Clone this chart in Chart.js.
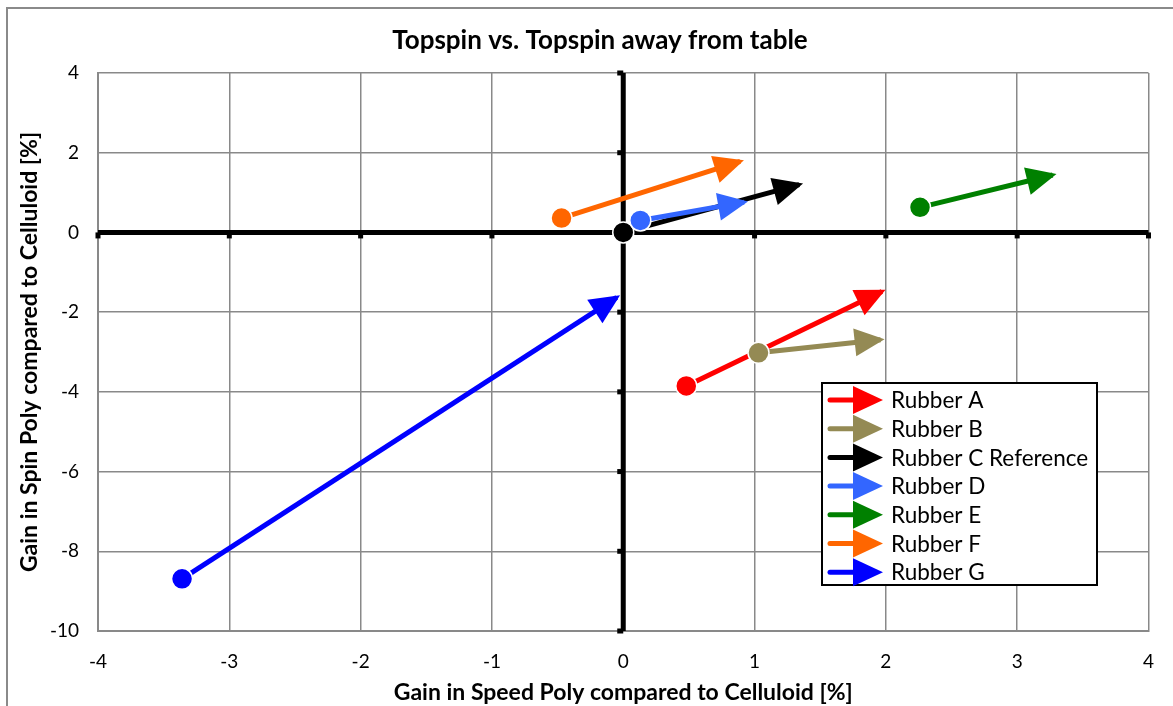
<!DOCTYPE html>
<html>
<head>
<meta charset="utf-8">
<script src="https://cdn.jsdelivr.net/npm/chart.js@4/dist/chart.umd.min.js"></script>
<style>
  html, body { margin: 0; padding: 0; background: #fff; }
  #wrap { width: 1173px; height: 706px; position: relative; }
</style>
</head>
<body>
<div id="wrap"><canvas id="c" width="1173" height="706"></canvas></div>
<script>
// ---- data ----
const chartTitle = 'Topspin vs. Topspin away from table';
const xTitle = 'Gain in Speed Poly compared to Celluloid [%]';
const yTitle = 'Gain in Spin Poly compared to Celluloid [%]';
const rubbers = ['Rubber A', 'Rubber B', 'Rubber C Reference', 'Rubber D', 'Rubber E', 'Rubber F', 'Rubber G'];
const startX = [0.48, 1.03, 0.00, 0.13, 2.26, -0.47, -3.36];
const startY = [-3.85, -3.02, 0.00, 0.30, 0.63, 0.36, -8.69];
const endX = [1.97, 1.96, 1.34, 0.92, 3.27, 0.89, -0.05];
const endY = [-1.48, -2.69, 1.20, 0.76, 1.44, 1.78, -1.63];
const xTicks = [-4, -3, -2, -1, 0, 1, 2, 3, 4];
const yTicks = [-10, -8, -6, -4, -2, 0, 2, 4];

// ---- styles ----
const colors = ['#FF0000', '#948A54', '#000000', '#3366FF', '#008000', '#FF6600', '#0000FF'];
const FONT = 'Lato, "Open Sans", sans-serif';
const GRID = '#898989';

const datasets = rubbers.map((name, i) => ({
  label: name,
  data: [{ x: startX[i], y: startY[i] }, { x: endX[i], y: endY[i] }],
  showLine: true,
  borderColor: colors[i],
  backgroundColor: colors[i],
  borderWidth: 5,
  pointRadius: [10.5, 0],
  pointHoverRadius: [10.5, 0],
  pointBackgroundColor: colors[i],
  pointBorderColor: '#ffffff',
  pointBorderWidth: 1.5,
  order: rubbers.length - i
}));

function drawArrow(ctx, x0, y0, x1, y1, color, len, half) {
  const a = Math.atan2(y1 - y0, x1 - x0);
  const tx = x1 + Math.cos(a) * 4, ty = y1 + Math.sin(a) * 4;
  const bx = tx - Math.cos(a) * len, by = ty - Math.sin(a) * len;
  ctx.beginPath();
  ctx.moveTo(tx, ty);
  ctx.lineTo(bx + Math.sin(a) * half, by - Math.cos(a) * half);
  ctx.lineTo(bx - Math.sin(a) * half, by + Math.cos(a) * half);
  ctx.closePath();
  ctx.fillStyle = color;
  ctx.fill();
}

const decor = {
  id: 'decor',
  beforeDraw(chart) {
    const ctx = chart.ctx;
    ctx.save();
    ctx.fillStyle = '#fff';
    ctx.fillRect(0, 0, chart.width, chart.height);
    ctx.strokeStyle = '#8a8a8a';
    ctx.lineWidth = 2;
    ctx.strokeRect(7, 8, chart.width + 20, chart.height + 20);
    // title
    ctx.fillStyle = '#000';
    ctx.font = 'bold 26px ' + FONT;
    ctx.textAlign = 'center';
    ctx.textBaseline = 'middle';
    ctx.fillText(chartTitle, 600, 41);
    ctx.restore();
  },
  beforeDatasetsDraw(chart) {
    const ctx = chart.ctx;
    const xs = chart.scales.x, ys = chart.scales.y;
    const ca = chart.chartArea;
    const x0 = xs.getPixelForValue(0), y0 = ys.getPixelForValue(0);
    ctx.save();
    ctx.strokeStyle = '#000';
    ctx.fillStyle = '#000';
    ctx.lineWidth = 5;
    ctx.beginPath();
    ctx.moveTo(ca.left, y0); ctx.lineTo(ca.right, y0);
    ctx.moveTo(x0, ca.top); ctx.lineTo(x0, ca.bottom);
    ctx.stroke();
    // tick marks on the zero axes
    xTicks.forEach(v => {
      const px = xs.getPixelForValue(v);
      ctx.fillRect(px - 2.5, y0, 5, 6);
    });
    yTicks.forEach(v => {
      const py = ys.getPixelForValue(v);
      ctx.fillRect(x0 - 6, py - 2.5, 6, 5);
    });
    ctx.restore();
  },
  afterDatasetDraw(chart, args) {
    const meta = args.meta;
    const pts = meta.data;
    if (pts.length < 2) return;
    const ds = chart.data.datasets[args.index];
    drawArrow(chart.ctx, pts[0].x, pts[0].y, pts[1].x, pts[1].y, ds.borderColor, 30, 14);
  },
  afterDraw(chart) {
    const ctx = chart.ctx;
    ctx.save();
    const L = 822, T = 383, W = 275, H = 202;
    ctx.fillStyle = '#fff';
    ctx.fillRect(L, T, W, H);
    ctx.strokeStyle = '#000';
    ctx.lineWidth = 2;
    ctx.strokeRect(L, T, W, H);
    chart.data.datasets.forEach((ds, i) => {
      const cy = T + 17 + i * 28.7;
      ctx.strokeStyle = ds.borderColor;
      ctx.lineWidth = 5;
      ctx.lineCap = 'round';
      ctx.beginPath();
      ctx.moveTo(L + 8, cy); ctx.lineTo(L + 34, cy);
      ctx.stroke();
      ctx.fillStyle = ds.borderColor;
      ctx.beginPath();
      ctx.moveTo(L + 31, cy - 14);
      ctx.lineTo(L + 61, cy);
      ctx.lineTo(L + 31, cy + 14);
      ctx.closePath();
      ctx.fill();
      ctx.fillStyle = '#000';
      ctx.font = '22.5px ' + FONT;
      ctx.textAlign = 'left';
      ctx.textBaseline = 'middle';
      ctx.fillText(ds.label, L + 69, cy + 1);
    });
    ctx.restore();
  }
};

new Chart(document.getElementById('c'), {
  type: 'scatter',
  data: { datasets },
  options: {
    responsive: false,
    animation: false,
    events: [],
    layout: { padding: { left: 0, right: 19, top: 73, bottom: 0 } },
    plugins: {
      legend: { display: false },
      title: { display: false },
      tooltip: { enabled: false }
    },
    scales: {
      x: {
        type: 'linear',
        min: -4, max: 4,
        afterBuildTicks: s => { s.ticks = xTicks.map(v => ({ value: v })); },
        afterFit: s => { s.height = 75; },
        grid: { color: GRID, lineWidth: 1.5, drawTicks: false },
        border: { color: GRID, width: 2 },
        ticks: { color: '#000', font: { family: FONT, size: 19 }, padding: 19 },
        title: { display: true, text: xTitle, color: '#000', font: { family: FONT, size: 23, weight: 'bold' }, padding: { top: 0, bottom: 0 } }
      },
      y: {
        type: 'linear',
        min: -10, max: 4,
        afterBuildTicks: s => { s.ticks = yTicks.map(v => ({ value: v })); },
        afterFit: s => { s.width = 98; },
        grid: { color: GRID, lineWidth: 1.5, drawTicks: false },
        border: { color: GRID, width: 2 },
        ticks: { color: '#000', font: { family: FONT, size: 19 }, padding: 19 },
        title: { display: true, text: yTitle, color: '#000', font: { family: FONT, size: 23, weight: 'bold' }, padding: { top: 16, bottom: 0 } }
      }
    }
  },
  plugins: [decor]
});
</script>
</body>
</html>
